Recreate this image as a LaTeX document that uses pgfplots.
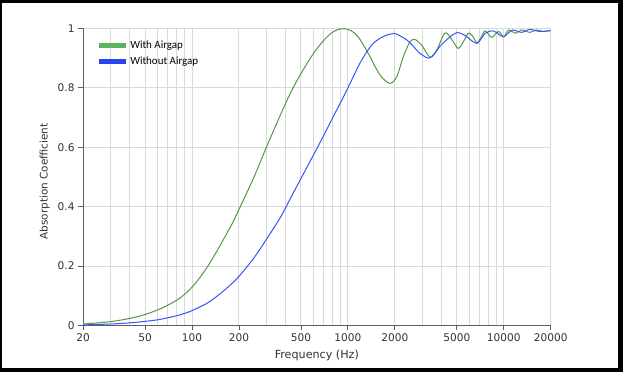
\documentclass[border=0pt]{standalone}
\usepackage{pgfplots}
\pgfplotsset{compat=1.18}
\usepackage{fontspec}
\setmainfont{DejaVu Sans}
\newfontfamily\legendfont{Carlito}
\definecolor{gline}{RGB}{86,152,70}
\definecolor{bline}{RGB}{55,85,250}
\definecolor{gleg}{RGB}{92,180,92}
\definecolor{bleg}{RGB}{40,68,240}
\definecolor{gridc}{RGB}{217,217,217}
\definecolor{axc}{RGB}{95,95,95}
\definecolor{txt}{RGB}{50,50,50}
\begin{document}
\begin{tikzpicture}
\fill[black] (0bp,0bp) rectangle (623bp,372bp);
\fill[white] (2.3bp,3.7bp) rectangle (618.3bp,369bp);
\useasboundingbox (0bp,0bp) rectangle (623bp,372bp);
\begin{axis}[
  at={(83bp,46.5bp)}, anchor=south west,
  scale only axis, width=467.7bp, height=297bp,
  xmode=log, xmin=20, xmax=20000, ymin=0, ymax=1,
  axis lines*=left,
  xtick={20,50,100,200,500,1000,2000,5000,10000,20000},
  xticklabels={20,50,100,200,500,1000,2000,5000,10000,20000},
  minor xtick={30,40,60,70,80,90,300,400,600,700,800,900,3000,4000,6000,7000,8000,9000},
  ytick={0,0.2,0.4,0.6,0.8,1},
  yticklabels={0,0.2,0.4,0.6,0.8,1},
  grid=both,
  grid style={gridc, line width=0.9bp},
  minor grid style={gridc, line width=0.9bp},
  major tick length=5bp, minor tick length=0pt, tick align=outside,
  tick style={axc, line width=0.8bp},
  axis line style={axc, line width=1bp},
  tick label style={font=\fontsize{10.6}{12}\selectfont, text=txt},
  label style={text=txt},
  xlabel={Frequency (Hz)},
  ylabel={Absorption Coefficient},
  xlabel style={font=\fontsize{11.2}{12}\selectfont, at={(axis description cs:0.5,-0.0993)}, anchor=center},
  ylabel style={font=\fontsize{10.5}{12}\selectfont, at={(axis description cs:-0.082,0.485)}, anchor=center},
  legend style={at={(axis description cs:0.028,0.967)}, anchor=north west,
    draw=none, fill=none, inner sep=0pt, row sep=3.5bp,
    font=\legendfont\fontsize{11}{13}\selectfont, cells={anchor=west}},
  legend image code/.code={\draw[#1, line width=5bp] (-3bp,0) -- (24bp,0);},
]
\addlegendimage{gleg}
\addlegendentry{With Airgap}
\addlegendimage{bleg}
\addlegendentry{Without Airgap}
\addplot[gline, line width=1bp, smooth, tension=0.5, forget plot] coordinates {
(20,0.005) (25,0.009) (31,0.014) (40,0.024) (50,0.037) (65,0.060) (84,0.093)
(102,0.134) (124,0.193) (151,0.268) (184,0.35) (200,0.39) (250,0.50) (300,0.60)
(370,0.71) (430,0.785) (500,0.848) (600,0.915) (700,0.96) (800,0.988) (900,0.999)
(1000,0.997) (1100,0.985) (1200,0.962) (1388,0.905) (1522,0.864) (1650,0.836)
(1864,0.815) (2060,0.838) (2268,0.905)
(2500,0.955) (2692,0.963) (2970,0.944) (3370,0.903) (3720,0.928) (4200,0.985)
(4650,0.962) (5100,0.933) (5500,0.955) (5920,0.984) (6300,0.975) (6730,0.952)
(7150,0.97) (7600,0.992) (8370,0.97) (9240,0.99) (10000,0.972) (10750,0.995)
(11900,0.984) (13000,0.995) (14700,0.987) (16200,0.995) (17900,0.99) (20000,0.993)
};
\addplot[bline, line width=1bp, smooth, tension=0.5, forget plot] coordinates {
(20,0.002) (30,0.005) (40,0.009) (50,0.014) (60,0.019) (70,0.026) (80,0.033)
(90,0.041) (100,0.050) (125,0.075) (150,0.105) (175,0.135) (200,0.165) (250,0.228)
(300,0.29) (370,0.365) (430,0.43) (500,0.495) (600,0.573) (700,0.64) (800,0.70)
(900,0.752) (1000,0.80) (1100,0.845) (1200,0.885) (1324,0.922) (1456,0.950)
(1608,0.967) (1800,0.979) (2000,0.983) (2164,0.975) (2380,0.962)
(2600,0.943) (2890,0.917) (3300,0.90) (3600,0.915) (3880,0.939) (4520,0.972)
(4990,0.986) (5400,0.982) (5800,0.972) (6730,0.95) (7600,0.984) (8580,0.992)
(9300,0.98) (10000,0.972) (10700,0.985) (11480,0.995) (13000,0.987) (14700,0.997)
(17000,0.99) (20000,0.993)
};
\end{axis}
\end{tikzpicture}
\end{document}
